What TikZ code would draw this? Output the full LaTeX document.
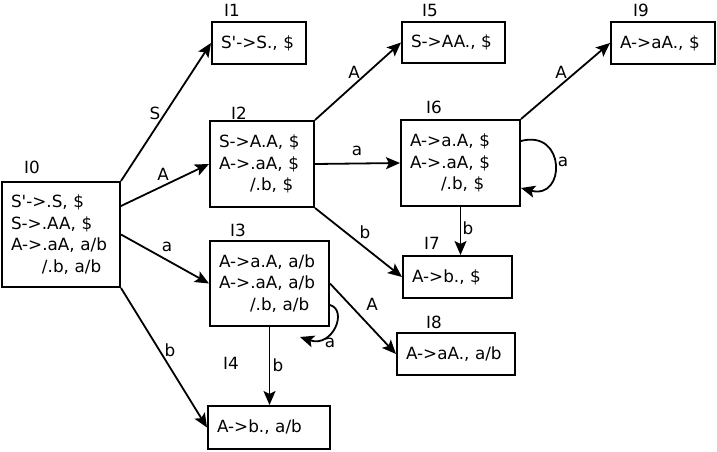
\documentclass[tikz,border=0pt]{standalone}
\usepackage{fontspec}
\setmainfont{DejaVu Sans}[Ligatures=TeXOff]
\usetikzlibrary{arrows.meta}
\newcommand\diafont{\fontsize{16.8}{21.5}\selectfont}
\begin{document}
\begin{tikzpicture}[x=1pt,y=-1pt,
  box/.style={draw,line width=2pt,inner xsep=9pt,inner ysep=0pt,align=left,font=\diafont},
  tag/.style={font=\diafont,inner sep=0pt},
  lab/.style={font=\diafont,inner sep=0pt},
  edge/.style={line width=1.8pt,-{Stealth[length=14pt,width=12pt,inset=3pt]}}]
\useasboundingbox[fill=white] (0,0) rectangle (717,452);
% states
\node[box,text width=100pt,minimum height=105pt] (I0) at (61,234.5)
  {S'->.S, \$\\S->.AA, \$\\A->.aA, a/b\\\hspace*{31pt}/.b, a/b};
\node[box,text width=76pt,minimum height=42pt] (I1) at (259,43) {S'->S., \$};
\node[box,text width=86pt,minimum height=86pt] (I2) at (262,164)
  {S->A.A, \$\\A->.aA, \$\\\hspace*{31pt}/.b, \$};
\node[box,text width=101pt,minimum height=85pt] (I3) at (269.5,283.5)
  {A->a.A, a/b\\A->.aA, a/b\\\hspace*{31pt}/.b, a/b};
\node[box,text width=104pt,minimum height=43pt] (I4) at (269,427.5) {A->b., a/b};
\node[box,text width=85pt,minimum height=41pt] (I5) at (453.5,42.5) {S->AA., \$};
\node[box,text width=101pt,minimum height=86pt] (I6) at (460.5,163)
  {A->a.A, \$\\A->.aA, \$\\\hspace*{31pt}/.b, \$};
\node[box,text width=91pt,minimum height=42pt] (I7) at (457.5,277) {A->b., \$};
\node[box,text width=100pt,minimum height=42pt] (I8) at (456,354) {A->aA., a/b};
\node[box,text width=86pt,minimum height=42pt] (I9) at (663,43) {A->aA., \$};
% state names
\node[tag] (t0) at (32,167) {I0};
\node[tag] (t1) at (232,10) {I1};
\node[tag] (t2) at (239,113) {I2};
\node[tag] (t3) at (238,230) {I3};
\node[tag] (t4) at (231,363) {I4};
\node[tag] (t5) at (430,10) {I5};
\node[tag] (t6) at (434,107) {I6};
\node[tag] (t7) at (432,243) {I7};
\node[tag] (t8) at (434,322) {I8};
\node[tag] (t9) at (641,10) {I9};
% transitions
\draw[edge] (I0.north east) -- (I1.west) node[lab] at (155,113) {S};
\draw[edge] ([yshift=-25pt]I0.north east) -- (I2.west) node[lab] at (163,174) {A};
\draw[edge] (I0.east) -- (I3.west) node[lab] at (167,247) {a};
\draw[edge] (I0.south east) -- (I4.west) node[lab] at (170,350) {b};
\draw[edge] (I2.north east) -- (I5.west) node[lab] at (354,72) {A};
\draw[edge] (I2.east) -- (I6.west) node[lab] at (357,151) {a};
\draw[edge] (I2.south east) -- (I7.west) node[lab] at (365,232) {b};
\draw[edge] (I6.north east) -- (I9.west) node[lab] at (561,72) {A};
\draw[edge] (I6.south) -- (I6.south |- I7.north) node[lab] at (468,228) {b};
\draw[edge] (I3.south) -- (I3.south |- I4.north) node[lab] at (278,365) {b};
\draw[edge] (I3.east) -- (I8.west) node[lab] at (372,304) {A};
% loops
\coordinate (l3e) at (300,337);
\draw[edge] ([yshift=-21.5pt]I3.east) .. controls (348,310) and (333,348) .. (l3e)
  node[lab] at (330,343) {a};
\draw[edge] ([yshift=22pt]I6.east) .. controls +(45,-12) and +(45,12) .. ([yshift=-25pt]I6.east)
  node[lab] at (563,162) {a};
\end{tikzpicture}
\end{document}
